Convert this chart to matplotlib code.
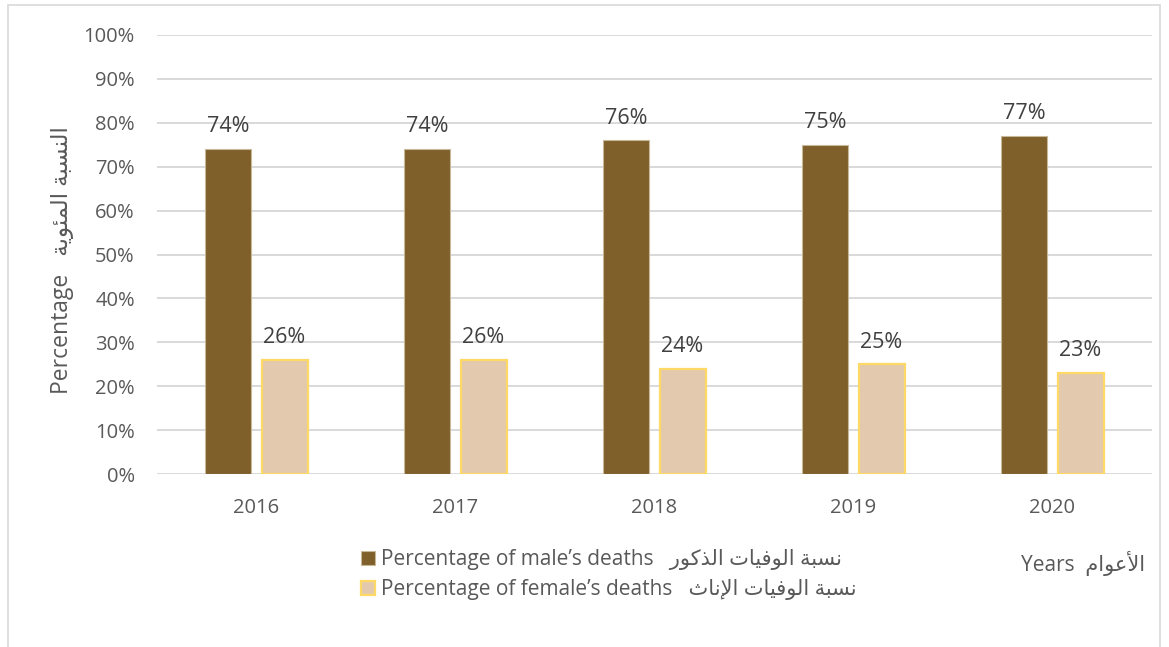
import matplotlib
matplotlib.use("Agg")
import matplotlib.pyplot as plt
import numpy as np
from matplotlib.patches import Rectangle, Patch
from matplotlib.ticker import FuncFormatter, MultipleLocator

plt.rcParams["font.family"] = ["Open Sans", "DejaVu Sans"]

years = ["2016", "2017", "2018", "2019", "2020"]
male_pct = [74, 74, 76, 75, 77]
female_pct = [26, 26, 24, 25, 23]

male_label = "Percentage of male\u2019s deaths"
female_label = "Percentage of female\u2019s deaths"
male_label_ar = "نسبة الوفيات الذكور"
female_label_ar = "نسبة الوفيات الإناث"
ylabel_en = "Percentage"
ylabel_ar = "النسبة المئوية"
xlabel_en = "Years"
xlabel_ar = "الأعوام"

# presentation forms: (isolated, final, initial, medial)
ARABIC_FORMS = {
    "\u0627": ("\ufe8d", "\ufe8e"),
    "\u0623": ("\ufe83", "\ufe84"),
    "\u0625": ("\ufe87", "\ufe88"),
    "\u0628": ("\ufe8f", "\ufe90", "\ufe91", "\ufe92"),
    "\u0629": ("\ufe93", "\ufe94"),
    "\u062a": ("\ufe95", "\ufe96", "\ufe97", "\ufe98"),
    "\u062b": ("\ufe99", "\ufe9a", "\ufe9b", "\ufe9c"),
    "\u0630": ("\ufeab", "\ufeac"),
    "\u0631": ("\ufead", "\ufeae"),
    "\u0633": ("\ufeb1", "\ufeb2", "\ufeb3", "\ufeb4"),
    "\u0639": ("\ufec9", "\ufeca", "\ufecb", "\ufecc"),
    "\u0641": ("\ufed1", "\ufed2", "\ufed3", "\ufed4"),
    "\u0643": ("\ufed9", "\ufeda", "\ufedb", "\ufedc"),
    "\u0644": ("\ufedd", "\ufede", "\ufedf", "\ufee0"),
    "\u0645": ("\ufee1", "\ufee2", "\ufee3", "\ufee4"),
    "\u0646": ("\ufee5", "\ufee6", "\ufee7", "\ufee8"),
    "\u0648": ("\ufeed", "\ufeee"),
    "\u064a": ("\ufef1", "\ufef2", "\ufef3", "\ufef4"),
    "\u0626": ("\ufe89", "\ufe8a", "\ufe8b", "\ufe8c"),
}
LAM_ALEF = {
    "\u0627": ("\ufefb", "\ufefc"),
    "\u0623": ("\ufef7", "\ufef8"),
    "\u0625": ("\ufef9", "\ufefa"),
}


def shape_arabic(text):
    """Joins Arabic letters into presentation forms and returns them in visual order"""
    out = []
    prev_joins = False
    i = 0
    while i < len(text):
        c = text[i]
        nxt = text[i + 1] if i + 1 < len(text) else None
        if c not in ARABIC_FORMS:
            out.append(c)
            prev_joins = False
            i += 1
            continue
        if c == "\u0644" and nxt in LAM_ALEF:
            iso, fin = LAM_ALEF[nxt]
            out.append(fin if prev_joins else iso)
            prev_joins = False
            i += 2
            continue
        forms = ARABIC_FORMS[c]
        dual = len(forms) == 4
        next_joins = dual and nxt in ARABIC_FORMS
        if prev_joins and next_joins:
            out.append(forms[3])
        elif prev_joins:
            out.append(forms[1])
        elif next_joins:
            out.append(forms[2])
        else:
            out.append(forms[0])
        prev_joins = dual
        i += 1
    return "".join(reversed(out))


W, H = 1169, 647
fig = plt.figure(figsize=(W / 100, H / 100), dpi=100)
ax = fig.add_axes([157 / W, 1 - 474 / H, (1152 - 157) / W, (474 - 35) / H])

x = np.arange(len(years))
width = 0.231
offset = 0.141

male_bars = ax.bar(x - offset, male_pct, width, color="#7f5f2a",
                   edgecolor="#c8b89a", linewidth=0.8, zorder=3)
female_bars = ax.bar(x + offset, female_pct, width, color="#e3c9ad",
                     edgecolor="#ffd966", linewidth=1.6, zorder=3)

for bars, vals in [(male_bars, male_pct), (female_bars, female_pct)]:
    for b, v in zip(bars, vals):
        ax.annotate(f"{v}%", (b.get_x() + b.get_width() / 2, v),
                    xytext=(0, 12), textcoords="offset points",
                    ha="center", va="baseline", fontsize=15.5, color="#404040")

ax.set_xlim(-0.5, len(years) - 0.5)
ax.set_ylim(0, 100)
ax.yaxis.set_major_locator(MultipleLocator(10))
ax.yaxis.set_major_formatter(FuncFormatter(lambda v, p: f"{v:.0f}%"))
ax.set_xticks(x)
ax.set_xticklabels(years)
ax.tick_params(axis="both", length=0, labelsize=14.5, labelcolor="#595959")
ax.tick_params(axis="y", pad=16)
ax.tick_params(axis="x", pad=17)
ax.yaxis.grid(True, color="#d9d9d9", linewidth=1.4, zorder=0)
ax.set_axisbelow(True)
for s in ax.spines.values():
    s.set_visible(False)

fig.text(62 / W, 1 - 260 / H, ylabel_en + "   " + shape_arabic(ylabel_ar),
         rotation=90, ha="center", va="center", fontsize=16.5, color="#595959")

fig.text(1021 / W, 1 - 563 / H, xlabel_en + "  " + shape_arabic(xlabel_ar),
         ha="left", va="center", fontsize=15, color="#595959")

handles = [
    Patch(facecolor="#7f5f2a", edgecolor="#c8b89a", linewidth=0.8),
    Patch(facecolor="#e3c9ad", edgecolor="#ffd966", linewidth=1.6),
]
labels = [
    male_label + "   " + shape_arabic(male_label_ar),
    female_label + "   " + shape_arabic(female_label_ar),
]
fig.legend(handles, labels, loc="upper left",
           bbox_to_anchor=(361 / W, 1 - 549 / H), frameon=False,
           fontsize=15, labelcolor="#595959", handlelength=0.68,
           handleheight=0.68, handletextpad=0.3, labelspacing=0.45,
           borderpad=0, borderaxespad=0)

fig.patches.append(Rectangle((8 / W, -0.01), (1160 - 8) / W, 1.01 - 5 / H,
                             transform=fig.transFigure, fill=False,
                             edgecolor="#d9d9d9", linewidth=1.2))

fig.savefig("out.png", dpi=100)
